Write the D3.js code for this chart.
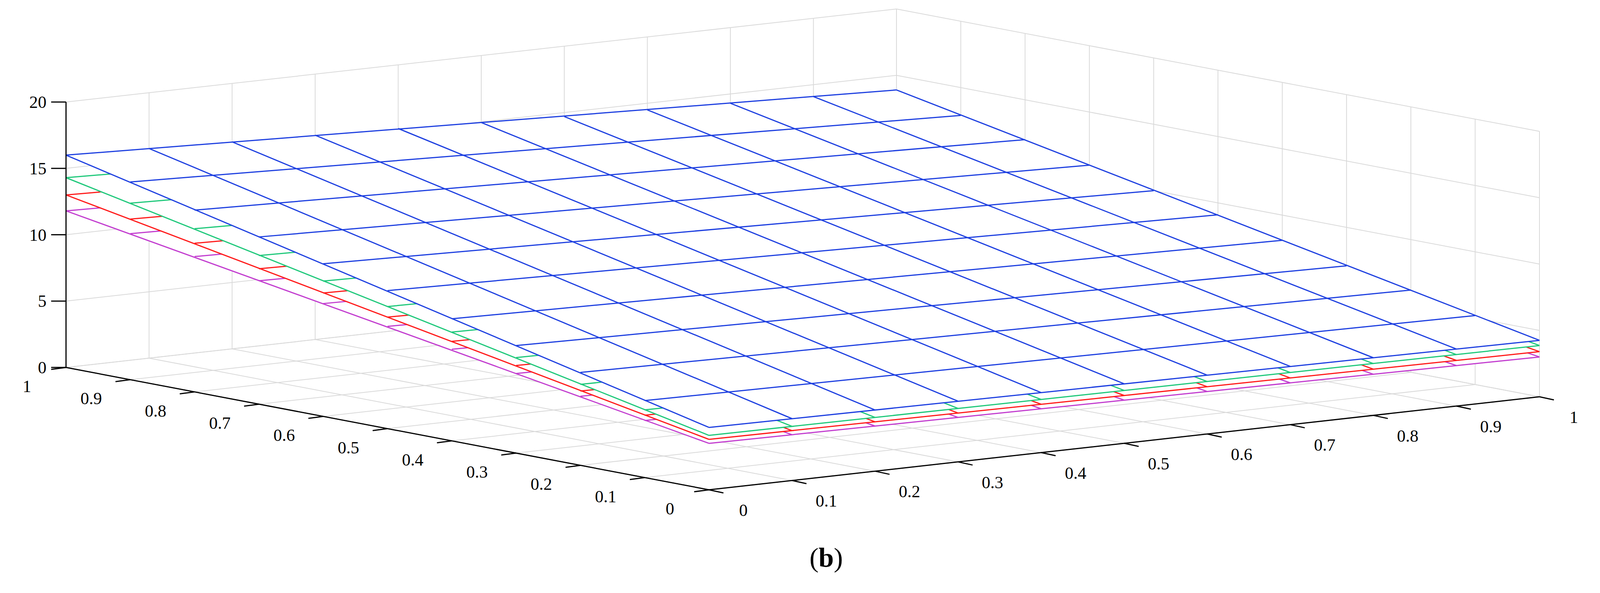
<!DOCTYPE html>
<html>
<head>
<meta charset="utf-8">
<script src="https://cdn.jsdelivr.net/npm/d3@7"></script>
<style>
  body { margin: 0; background: #fff; }
  text { font-family: "Liberation Serif", "Times New Roman", serif; }
</style>
</head>
<body>
<div id="chart"></div>
<script>
// tick values
const xTicks = [0, 0.1, 0.2, 0.3, 0.4, 0.5, 0.6, 0.7, 0.8, 0.9, 1];
const yTicks = [0, 0.1, 0.2, 0.3, 0.4, 0.5, 0.6, 0.7, 0.8, 0.9, 1];
const zTicks = [0, 5, 10, 15, 20];

// surfaces, given by their four edge profiles
// edgeY0: z along x at y=0, edgeY1: z along x at y=1, edgeX0: z along y at x=0, edgeX1: z along y at x=1
const surfMagenta = {
	color: "#c23ccf",
	edgeY0: [3.5, 3.45, 3.4, 3.35, 3.3, 3.25, 3.2, 3.15, 3.1, 3.05, 3.0],
	edgeY1: [11.8, 11.65, 11.5, 11.35, 11.2, 11.05, 10.9, 10.75, 10.6, 10.45, 10.3],
	edgeX0: [3.5, 4.3, 5.2, 6.0, 6.9, 7.7, 8.5, 9.3, 10.2, 11.0, 11.8],
	edgeX1: [3.0, 3.7, 4.5, 5.2, 6.0, 6.7, 7.4, 8.1, 8.9, 9.6, 10.3]
};
const surfRed = {
	color: "#ff1a1a",
	edgeY0: [3.8, 3.76, 3.72, 3.68, 3.64, 3.6, 3.56, 3.52, 3.48, 3.44, 3.4],
	edgeY1: [13.0, 12.84, 12.68, 12.52, 12.36, 12.2, 12.04, 11.88, 11.72, 11.56, 11.4],
	edgeX0: [3.8, 4.7, 5.6, 6.6, 7.5, 8.4, 9.3, 10.2, 11.2, 12.1, 13.0],
	edgeX1: [3.4, 4.2, 5.0, 5.8, 6.6, 7.4, 8.2, 9.0, 9.8, 10.6, 11.4]
};
const surfGreen = {
	color: "#1ec87a",
	edgeY0: [4.1, 4.08, 4.05, 4.03, 4.0, 3.98, 3.95, 3.93, 3.9, 3.88, 3.86],
	edgeY1: [14.3, 14.12, 13.94, 13.76, 13.58, 13.4, 13.22, 13.04, 12.86, 12.68, 12.5],
	edgeX0: [4.1, 5.1, 6.1, 7.2, 8.2, 9.2, 10.2, 11.2, 12.3, 13.3, 14.3],
	edgeX1: [3.86, 4.7, 5.6, 6.5, 7.3, 8.2, 9.0, 9.9, 10.8, 11.6, 12.5]
};
const surfBlue = {
	color: "#1d3fe0",
	edgeY0: [4.7, 4.66, 4.61, 4.57, 4.52, 4.48, 4.43, 4.39, 4.34, 4.3, 4.25],
	edgeY1: [16.0, 15.8, 15.6, 15.4, 15.2, 14.95, 14.7, 14.5, 14.3, 14.1, 13.9],
	edgeX0: [4.7, 5.8, 7.0, 8.1, 9.2, 10.4, 11.5, 12.6, 13.7, 14.9, 16.0],
	edgeX1: [4.25, 5.2, 6.2, 7.1, 8.1, 9.1, 10.0, 11.0, 12.0, 12.9, 13.9]
};
const surfaces = [surfMagenta, surfRed, surfGreen, surfBlue];

const WIDTH = 4230, HEIGHT = 1517;
const ORIGIN = [1815, 1253];
const X_VEC = [2126, -238];
const Y_VEC = [-1646, -313];

const xScale = d3.scaleLinear().domain([0, 1]).range([0, 1]);
const yScale = d3.scaleLinear().domain([0, 1]).range([0, 1]);
const zScale = d3.scaleLinear().domain([0, 20]).range([0, -679]);

function proj(x, y, z) {
	const fx = xScale(x), fy = yScale(y);
	return [ORIGIN[0] + fx * X_VEC[0] + fy * Y_VEC[0],
		ORIGIN[1] + fx * X_VEC[1] + fy * Y_VEC[1] + zScale(z)];
}

const svg = d3.select("#chart").append("svg")
	.attr("width", WIDTH).attr("height", HEIGHT);

const line = d3.line();
function seg(g, a, b, color, w) {
	g.append("path").attr("d", line([a, b]))
		.attr("stroke", color).attr("stroke-width", w).attr("fill", "none");
}

// gray grid: floor, back walls
const grid = svg.append("g");
const GRAY = "#d9d9d9";
xTicks.forEach(x => {
	seg(grid, proj(x, 0, 0), proj(x, 1, 0), GRAY, 2);
	seg(grid, proj(x, 1, 0), proj(x, 1, 20), GRAY, 2);
});
yTicks.forEach(y => {
	seg(grid, proj(0, y, 0), proj(1, y, 0), GRAY, 2);
	seg(grid, proj(1, y, 0), proj(1, y, 20), GRAY, 2);
});
zTicks.forEach(z => {
	seg(grid, proj(0, 1, z), proj(1, 1, z), GRAY, 2);
	seg(grid, proj(1, 1, z), proj(1, 0, z), GRAY, 2);
});

// surfaces, bottom to top
surfaces.forEach(s => {
	const g = svg.append("g");
	const outline = [];
	yTicks.forEach((y, i) => outline.push(proj(0, y, s.edgeX0[i])));
	xTicks.forEach((x, i) => outline.push(proj(x, 1, s.edgeY1[i])));
	yTicks.slice().reverse().forEach((y, i) => outline.push(proj(1, y, s.edgeX1[yTicks.length - 1 - i])));
	xTicks.slice().reverse().forEach((x, i) => outline.push(proj(x, 0, s.edgeY0[xTicks.length - 1 - i])));
	g.append("path").attr("d", line(outline) + "Z").attr("fill", "#fff").attr("stroke", "none");
	yTicks.forEach((y, i) => seg(g, proj(0, y, s.edgeX0[i]), proj(1, y, s.edgeX1[i]), s.color, 3));
	xTicks.forEach((x, i) => seg(g, proj(x, 0, s.edgeY0[i]), proj(x, 1, s.edgeY1[i]), s.color, 3));
});

// axes
const ax = svg.append("g");
seg(ax, proj(0, 1, 0), proj(0, 1, 20), "#000", 3);
seg(ax, proj(0, 0, 0), proj(0, 1, 0), "#000", 3);
seg(ax, proj(0, 0, 0), proj(1, 0, 0), "#000", 3);

zTicks.forEach(z => {
	const p = proj(0, 1, z);
	seg(ax, p, [p[0] - 38, p[1]], "#000", 3);
	ax.append("text").attr("x", p[0] - 50).attr("y", p[1] + 15)
		.attr("text-anchor", "end").attr("font-size", 44).text(z);
});
yTicks.forEach(y => {
	const p = proj(0, y, 0);
	seg(ax, p, [p[0] - 38, p[1] + 5], "#000", 3);
	ax.append("text").attr("x", p[0] - 100).attr("y", p[1] + 63)
		.attr("text-anchor", "middle").attr("font-size", 44).text(y);
});
xTicks.forEach(x => {
	const p = proj(x, 0, 0);
	seg(ax, p, [p[0] + 37, p[1] + 8], "#000", 3);
	ax.append("text").attr("x", p[0] + 88).attr("y", p[1] + 67)
		.attr("text-anchor", "middle").attr("font-size", 44).text(x);
});

// caption
const cap = svg.append("text").attr("x", WIDTH / 2).attr("y", 1450)
	.attr("text-anchor", "middle").attr("font-size", 70);
cap.append("tspan").text("(");
cap.append("tspan").attr("font-weight", "bold").text("b");
cap.append("tspan").text(")");
</script>
</body>
</html>
